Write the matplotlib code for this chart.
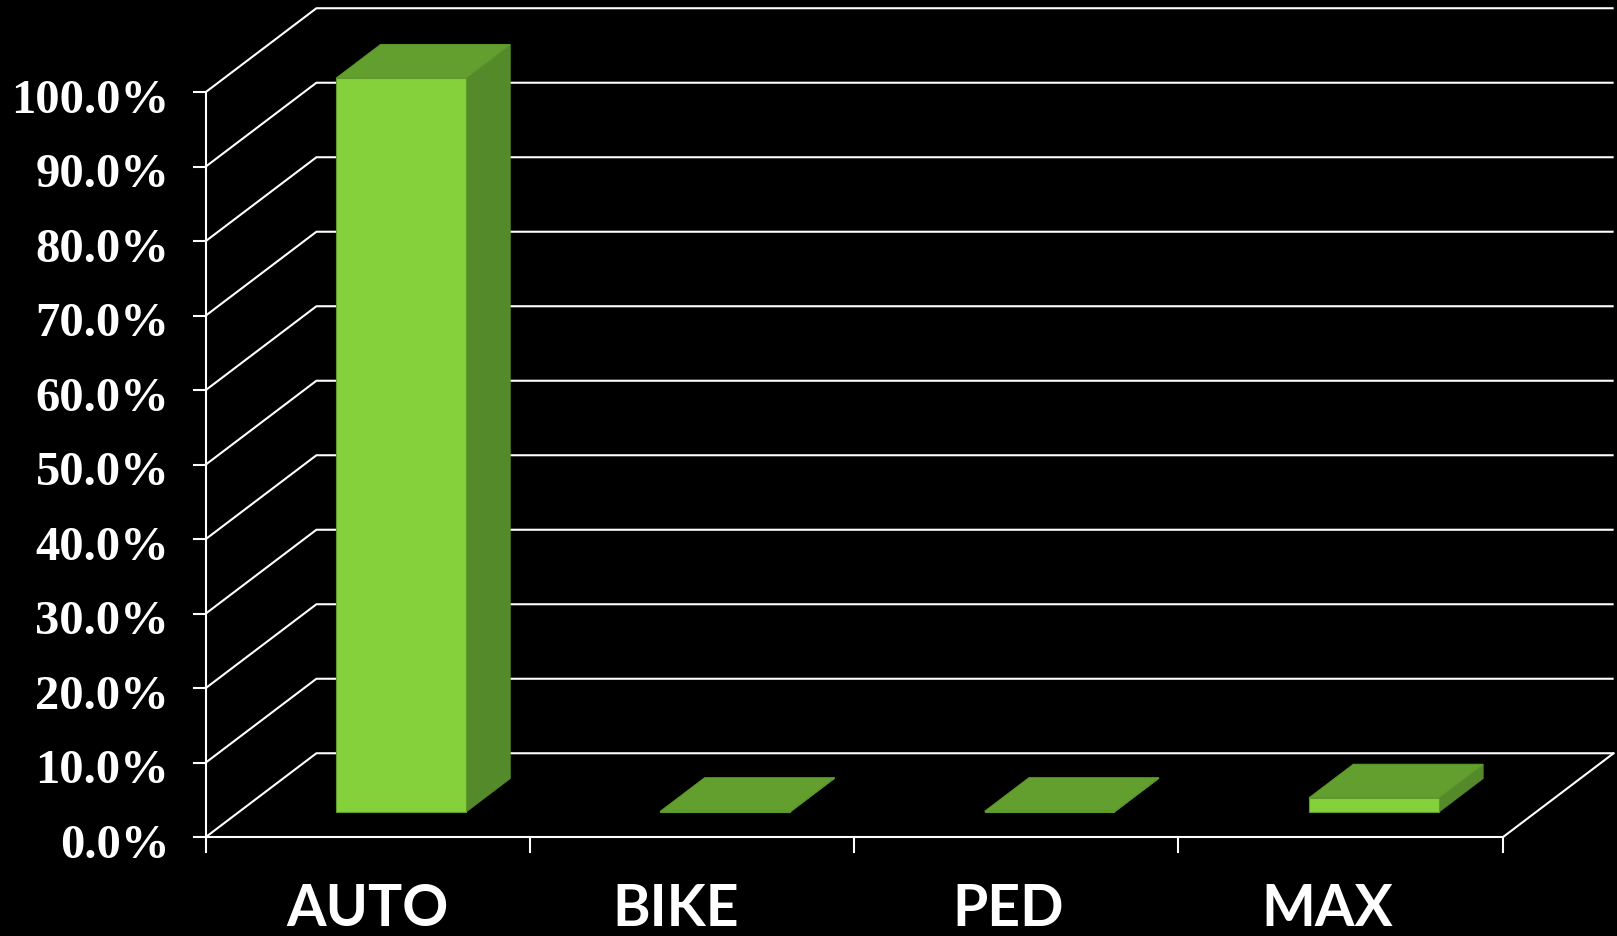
import matplotlib
matplotlib.use("Agg")
import matplotlib.pyplot as plt
from matplotlib.patches import Polygon

# ---- data ----
categories = ["AUTO", "BIKE", "PED", "MAX"]
values = [98.5, 0.1, 0.1, 1.9]
y_ticks = [0, 10, 20, 30, 40, 50, 60, 70, 80, 90, 100]
y_tick_labels = ["0.0%", "10.0%", "20.0%", "30.0%", "40.0%", "50.0%",
                 "60.0%", "70.0%", "80.0%", "90.0%", "100.0%"]

# ---- style / geometry ----
FRONT = "#84D13B"
TOP = "#629F2E"
SIDE = "#558A2B"
EDGE = "#5E9A2C"
LINE = "white"
DX = 0.342   # depth offset in category units
DY = 11.28   # depth offset in percent units
label_nudge = [0.0, -0.05, -0.025, -0.04]  # horizontal label nudges (category units)


def P(x, y, d):
    return (x + d * DX, y + d * DY)


fig = plt.figure(figsize=(16.17, 9.37), dpi=100, facecolor="black")
ax = fig.add_axes([0, 0, 1, 1])
ax.set_facecolor("black")
ax.set_xlim(-0.6337, 4.3524)
ax.set_ylim(-13.25, 112.52)
ax.axis("off")

n = len(categories)
lw = 1.5

# back wall gridlines and side-wall diagonals
for t in y_ticks:
    xs, ys = zip(P(0, t, 0), P(0, t, 1), P(n, t, 1))
    ax.plot(xs, ys, color=LINE, lw=lw, zorder=1, solid_capstyle="butt")

# floor right diagonal
xs, ys = zip(P(n, 0, 0), P(n, 0, 1))
ax.plot(xs, ys, color=LINE, lw=lw, zorder=1)

# bars
x0o, x1o, d0, d1 = 0.3, 0.7, 0.3, 0.7
for i, v in enumerate(values):
    x0, x1 = i + x0o, i + x1o
    front = [P(x0, 0, d0), P(x1, 0, d0), P(x1, v, d0), P(x0, v, d0)]
    top = [P(x0, v, d0), P(x1, v, d0), P(x1, v, d1), P(x0, v, d1)]
    side = [P(x1, 0, d0), P(x1, 0, d1), P(x1, v, d1), P(x1, v, d0)]
    ax.add_patch(Polygon(side, closed=True, facecolor=SIDE, edgecolor=SIDE, lw=0.8, zorder=2))
    ax.add_patch(Polygon(top, closed=True, facecolor=TOP, edgecolor=EDGE, lw=0.8, zorder=2))
    ax.add_patch(Polygon(front, closed=True, facecolor=FRONT, edgecolor=EDGE, lw=0.8, zorder=2))

# front axes
ax.plot([0, 0], [0, 100], color=LINE, lw=lw, zorder=3)
ax.plot([0, n], [0, 0], color=LINE, lw=lw, zorder=3)
tick_dx = 12 / 324.3
tick_dy = 14.5 / 7.45
for t in y_ticks:
    ax.plot([-tick_dx, 0], [t, t], color=LINE, lw=lw, zorder=3)
for k in range(n + 1):
    ax.plot([k, k], [0, -tick_dy], color=LINE, lw=lw, zorder=3)

# labels
for t, lab in zip(y_ticks, y_tick_labels):
    ax.text(-0.112, t - 1.0, lab, ha="right", va="center",
            fontsize=35, fontweight="bold", family=["Liberation Serif", "DejaVu Serif"],
            color="white")
for i, c in enumerate(categories):
    ax.text(i + 0.5 + label_nudge[i], -11.75, c, ha="center", va="baseline",
            fontsize=41, fontweight="bold", family=["Lato", "DejaVu Sans"], color="white")

fig.savefig("out.png", dpi=100, facecolor="black")
